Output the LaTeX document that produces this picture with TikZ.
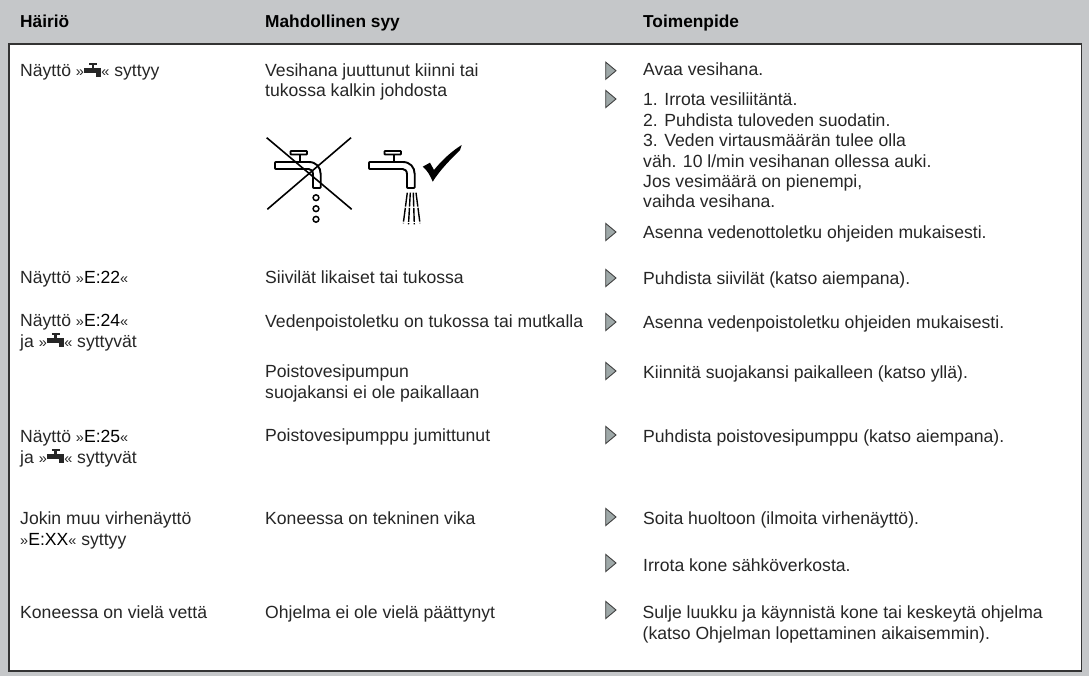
\documentclass[tikz,border=0pt]{standalone}
\usepackage{fontspec}
\setmainfont{Liberation Sans}
\definecolor{pagegray}{RGB}{197,199,201}
\definecolor{arrowgray}{RGB}{158,168,168}
\definecolor{inktext}{RGB}{38,38,38}
\newcommand\lguil{{\fontsize{14.5}{14.5}\selectfont »}}
\newcommand\rguil{{\fontsize{14.5}{14.5}\selectfont «}}
\newcommand\hana{\makebox[17.4pt][l]{\rlap{\kern5pt\rule[12.3pt]{7.7pt}{2pt}}\rlap{\kern7.5pt\rule[8.7pt]{2.5pt}{4pt}}\rlap{\rule[4.3pt]{17.4pt}{4.4pt}}\kern11.7pt\rule{5.7pt}{4.5pt}}}
\newcommand\koodi[1]{\textcolor{black}{#1}}
\tikzset{
  x=1pt,y=-1pt,
  txt/.style={anchor=base west,inner sep=0pt,align=left,text=inktext,font=\fontsize{17.6}{20.4}\selectfont},
  headtxt/.style={anchor=base west,inner sep=0pt,text=black,font=\fontsize{17.3}{20.4}\selectfont\bfseries},
  bullet/.pic={\draw[fill=arrowgray,draw=black!75,line width=.9pt,line join=miter] (-5.3,-8.6) -- (5,0) -- (-5.3,8.6) -- cycle;},
  tapshape/.pic={
    \draw[line width=1.9pt,rounded corners=.8pt,line join=round] (0,0) -- (33,0) .. controls (41,0) and (45.7,5) .. (45.7,13) -- (45.7,26) -- (38,26) -- (38,13) .. controls (38,9) and (36,7) .. (33,7) -- (0,7) -- cycle;
    \draw[line width=1.9pt,rounded corners=.8pt] (15.5,-11) rectangle (32,-7.5);
    \draw[line width=1.9pt] (25,-7.5) -- (25,0);
  },
}
\begin{document}
\begin{tikzpicture}
\useasboundingbox (0,0) rectangle (1089,676);
\fill[pagegray] (0,0) rectangle (1089,676);
\draw[fill=white,draw=black!80,line width=1.3pt] (9,44) rectangle (1081.5,671);
% headers
\node[headtxt] (h1) at (20,28) {Häiriö};
\node[headtxt] (h2) at (265,28) {Mahdollinen syy};
\node[headtxt] (h3) at (643,28) {Toimenpide};
% left column
\node[txt] (a1) at (20,77) {Näyttö \lguil\hana\rguil{} syttyy};
\node[txt] (a2) at (20,283.5) {Näyttö \lguil\koodi{E:22}\rguil};
\node[txt] (a3) at (20,347) {Näyttö \lguil\koodi{E:24}\rguil\\ja \lguil\hana\rguil{} syttyvät};
\node[txt] (a4) at (20,463) {Näyttö \lguil\koodi{E:25}\rguil\\ja \lguil\hana\rguil{} syttyvät};
\node[txt] (a5) at (20,545) {Jokin muu virhenäyttö\\\lguil\koodi{E:XX}\rguil{} syttyy};
\node[txt] (a6) at (20,618) {Koneessa on vielä vettä};
% middle column
\node[txt] (b1) at (265,97) {Vesihana juuttunut kiinni tai\\tukossa kalkin johdosta};
\node[txt] (b2) at (265,283.5) {Siivilät likaiset tai tukossa};
\node[txt] (b3) at (265,327) {Vedenpoistoletku on tukossa tai mutkalla};
\node[txt] (b4) at (265,398) {Poistovesipumpun\\suojakansi ei ole paikallaan};
\node[txt] (b5) at (265,441) {Poistovesipumppu jumittunut};
\node[txt] (b6) at (265,524) {Koneessa on tekninen vika};
\node[txt] (b7) at (265,618) {Ohjelma ei ole vielä päättynyt};
% right column
\node[txt] (c1) at (643,76) {Avaa vesihana.};
\node[txt] (c2) at (643,208) {1. Irrota vesiliitäntä.\\2. Puhdista tuloveden suodatin.\\3. Veden virtausmäärän tulee olla\\väh. 10 l/min vesihanan ollessa auki.\\Jos vesimäärä on pienempi,\\vaihda vesihana.};
\node[txt] (c3) at (643,238.5) {Asenna vedenottoletku ohjeiden mukaisesti.};
\node[txt] (c4) at (643,284) {Puhdista siivilät (katso aiempana).};
\node[txt] (c5) at (643,328) {Asenna vedenpoistoletku ohjeiden mukaisesti.};
\node[txt] (c6) at (643,378) {Kiinnitä suojakansi paikalleen (katso yllä).};
\node[txt] (c7) at (643,442) {Puhdista poistovesipumppu (katso aiempana).};
\node[txt] (c8) at (643,524) {Soita huoltoon (ilmoita virhenäyttö).};
\node[txt] (c9) at (643,571) {Irrota kone sähköverkosta.};
\node[txt] (c10) at (642.5,639) {Sulje luukku ja käynnistä kone tai keskeytä ohjelma\\(katso Ohjelman lopettaminen aikaisemmin).};
% bullets
\foreach \yy in {70.7,99,232,278,322,371,435,517,563,610}
  \pic at (611,\yy) {bullet};
% taps
\pic at (275,162) {tapshape};
\pic at (369,162) {tapshape};
\draw[line width=1.6pt] (266.7,137.7) -- (351.7,209.3);
\draw[line width=1.6pt] (351,137.7) -- (267.3,209.3);
\foreach \yy in {197.7,208.7,219.3}
  \draw[line width=1.5pt] (316,\yy) circle (2.9);
\draw[line width=1.4pt,dash pattern=on 14pt off 1.2pt] (407.3,192.7) -- (403.3,223.3);
\draw[line width=1.4pt,dash pattern=on 14pt off 1.2pt] (410.3,192.7) -- (408.5,224.3);
\draw[line width=1.4pt,dash pattern=on 14pt off 1.2pt] (413.3,192.7) -- (414.3,224.3);
\draw[line width=1.4pt,dash pattern=on 14pt off 1.2pt] (416,192.7) -- (420,223.3);
\fill (422.7,166.7) -- (430,162.7) -- (434,170) .. controls (442,160) and (452,151) .. (461.7,145) -- (460,150) .. controls (450,160) and (440,170) .. (432.7,181.7) .. controls (430,175) and (427,170) .. cycle;
\end{tikzpicture}
\end{document}
